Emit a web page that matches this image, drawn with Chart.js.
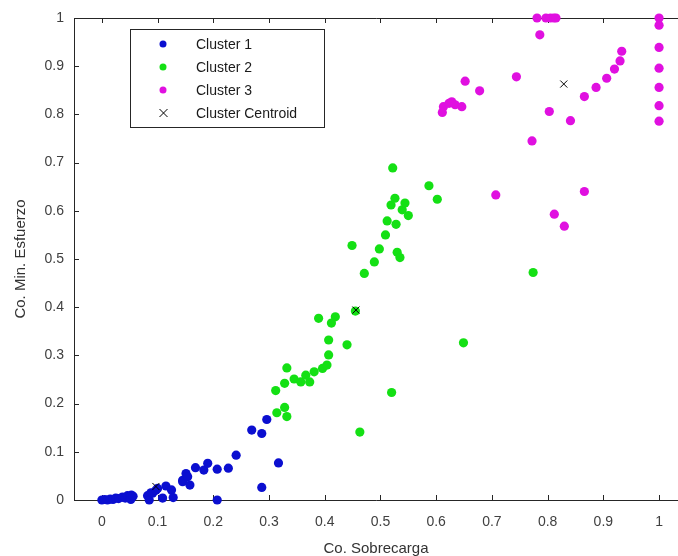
<!DOCTYPE html>
<html>
<head>
<meta charset="utf-8">
<script src="https://cdn.jsdelivr.net/npm/chart.js@4/dist/chart.umd.min.js"></script>
<style>
  html, body { margin: 0; padding: 0; background: #fff; }
  #wrap { width: 678px; height: 556px; position: relative; }
</style>
</head>
<body>
<div id="wrap"><canvas id="kmeansChart"></canvas></div>
<script>
// puntos de cada cluster [Co. Sobrecarga, Co. Min. Esfuerzo]
const cluster1 = [
  [0.0, 0.0], [0.005, 0.001], [0.01, 0.0], [0.015, 0.002], [0.02, 0.001], [0.025, 0.004],
  [0.03, 0.003], [0.037, 0.006], [0.042, 0.004], [0.046, 0.009], [0.05, 0.006], [0.053, 0.01],
  [0.052, 0.001], [0.056, 0.008], [0.082, 0.009], [0.085, 0.0], [0.088, 0.015], [0.091, 0.014],
  [0.097, 0.02], [0.1, 0.024], [0.109, 0.004], [0.115, 0.029], [0.125, 0.021], [0.128, 0.005],
  [0.145, 0.041], [0.145, 0.038], [0.151, 0.055], [0.154, 0.048], [0.158, 0.031], [0.168, 0.067],
  [0.183, 0.062], [0.19, 0.076], [0.207, 0.064], [0.207, 0.0], [0.227, 0.066], [0.241, 0.093],
  [0.269, 0.145], [0.287, 0.138], [0.296, 0.167], [0.287, 0.026], [0.317, 0.077]
];
const cluster2 = [
  [0.312, 0.227], [0.314, 0.181], [0.328, 0.192], [0.332, 0.173], [0.328, 0.242], [0.332, 0.274],
  [0.345, 0.251], [0.357, 0.245], [0.373, 0.245], [0.366, 0.259], [0.381, 0.266], [0.396, 0.273],
  [0.404, 0.28], [0.407, 0.301], [0.44, 0.322], [0.407, 0.332], [0.389, 0.377], [0.412, 0.367],
  [0.419, 0.38], [0.455, 0.392], [0.463, 0.141], [0.52, 0.223], [0.649, 0.326], [0.774, 0.472],
  [0.449, 0.528], [0.471, 0.47], [0.489, 0.494], [0.498, 0.521], [0.509, 0.55], [0.512, 0.579],
  [0.528, 0.572], [0.53, 0.514], [0.535, 0.503], [0.55, 0.59], [0.539, 0.602], [0.544, 0.616],
  [0.519, 0.612], [0.526, 0.626], [0.587, 0.652], [0.602, 0.624], [0.522, 0.689]
];
const cluster3 = [
  [0.611, 0.804], [0.613, 0.816], [0.623, 0.823], [0.628, 0.826], [0.634, 0.82], [0.646, 0.816],
  [0.652, 0.869], [0.678, 0.849], [0.707, 0.633], [0.744, 0.878], [0.772, 0.745], [0.781, 1.0],
  [0.786, 0.965], [0.797, 1.0], [0.805, 1.0], [0.811, 1.0], [0.815, 1.0], [0.803, 0.806],
  [0.812, 0.593], [0.83, 0.568], [0.841, 0.787], [0.866, 0.64], [0.866, 0.837], [0.887, 0.856],
  [0.906, 0.875], [0.92, 0.894], [0.93, 0.911], [0.933, 0.931],
  [1.0, 1.0], [1.0, 0.985], [1.0, 0.939], [1.0, 0.896], [1.0, 0.856], [1.0, 0.818], [1.0, 0.786]
];
const centroids = [[0.097, 0.028], [0.456, 0.394], [0.829, 0.863]];

const seriesNames = ['Cluster 1', 'Cluster 2', 'Cluster 3', 'Cluster Centroid'];
const seriesColors = ['#0b0fd0', '#14e014', '#e010e0', '#000000'];

const xTicks = [0, 0.1, 0.2, 0.3, 0.4, 0.5, 0.6, 0.7, 0.8, 0.9, 1];
const yTicks = [0, 0.1, 0.2, 0.3, 0.4, 0.5, 0.6, 0.7, 0.8, 0.9, 1];

const toXY = arr => arr.map(p => ({ x: p[0], y: p[1] }));
const fontFam = '"Liberation Sans", Arial, sans-serif';

// marco de ejes con marcas hacia dentro (estilo MATLAB)
const framePlugin = {
  id: 'frame',
  beforeDatasetsDraw(chart) {
    const { ctx, chartArea: a, scales: { x, y } } = chart;
    ctx.save();
    ctx.strokeStyle = '#262626';
    ctx.lineWidth = 1;
    ctx.beginPath();
    ctx.moveTo(a.left + 0.5, a.top + 0.5);
    ctx.lineTo(a.left + 0.5, a.bottom + 0.5);
    ctx.lineTo(a.right, a.bottom + 0.5);
    ctx.moveTo(a.left + 0.5, a.top + 0.5);
    ctx.lineTo(a.right, a.top + 0.5);
    ctx.stroke();
    ctx.beginPath();
    xTicks.forEach(v => {
      const px = Math.round(x.getPixelForValue(v)) + 0.5;
      ctx.moveTo(px, a.bottom);
      ctx.lineTo(px, a.bottom - 5);
      ctx.moveTo(px, a.top);
      ctx.lineTo(px, a.top + 5);
    });
    yTicks.forEach(v => {
      const py = Math.round(y.getPixelForValue(v)) + 0.5;
      ctx.moveTo(a.left, py);
      ctx.lineTo(a.left + 5, py);
    });
    ctx.stroke();
    ctx.restore();
  }
};

// leyenda dentro del área de trazado
const legendBoxPlugin = {
  id: 'legendBox',
  afterDraw(chart) {
    const ctx = chart.ctx;
    const bx = 130.5, by = 29.5, bw = 194, bh = 98;
    ctx.save();
    ctx.fillStyle = '#fff';
    ctx.fillRect(bx, by, bw, bh);
    ctx.strokeStyle = '#262626';
    ctx.lineWidth = 1;
    ctx.strokeRect(bx, by, bw, bh);
    ctx.font = '14px ' + fontFam;
    ctx.textBaseline = 'middle';
    seriesNames.forEach((name, i) => {
      const cy = 44 + i * 23;
      if (i < 3) {
        ctx.fillStyle = seriesColors[i];
        ctx.beginPath();
        ctx.arc(163, cy, 3.5, 0, Math.PI * 2);
        ctx.fill();
      } else {
        ctx.strokeStyle = '#000';
        ctx.beginPath();
        ctx.moveTo(159.5, cy - 4); ctx.lineTo(167.5, cy + 4);
        ctx.moveTo(167.5, cy - 4); ctx.lineTo(159.5, cy + 4);
        ctx.stroke();
      }
      ctx.fillStyle = '#1a1a1a';
      ctx.fillText(name, 196, cy + 1);
    });
    ctx.restore();
  }
};

const dotSet = (i, pts) => ({
  label: seriesNames[i],
  data: toXY(pts),
  backgroundColor: seriesColors[i],
  borderWidth: 0,
  pointRadius: 4.6,
  pointHoverRadius: 4.6,
  clip: false,
  order: 4 - i
});

new Chart(document.getElementById('kmeansChart'), {
  type: 'scatter',
  data: {
    datasets: [
      dotSet(0, cluster1),
      dotSet(1, cluster2),
      dotSet(2, cluster3),
      {
        label: seriesNames[3],
        data: toXY(centroids),
        pointStyle: 'crossRot',
        pointRadius: 5,
        borderColor: '#000',
        borderWidth: 1,
        clip: false,
        order: 0
      }
    ]
  },
  options: {
    responsive: true,
    maintainAspectRatio: false,
    animation: false,
    events: [],
    layout: { autoPadding: false, padding: { top: 18, right: 0, left: 0, bottom: 0 } },
    plugins: { legend: { display: false }, tooltip: { enabled: false } },
    scales: {
      x: {
        type: 'linear',
        min: -0.05,
        max: 1.034,
        grid: { display: false, drawTicks: false },
        border: { display: false },
        afterBuildTicks: s => { s.ticks = xTicks.map(v => ({ value: v })); },
        afterFit: s => { s.height = 56; s.paddingLeft = 0; s.paddingRight = 0; },
        ticks: {
          autoSkip: false,
          maxRotation: 0,
          padding: 14,
          color: '#404040',
          font: { family: fontFam, size: 14 },
          callback: v => String(v)
        },
        title: {
          display: true,
          text: 'Co. Sobrecarga',
          color: '#333',
          font: { family: fontFam, size: 15 },
          padding: { top: 0, bottom: -2 }
        }
      },
      y: {
        type: 'linear',
        min: 0,
        max: 1,
        grid: { display: false, drawTicks: false },
        border: { display: false },
        afterBuildTicks: s => { s.ticks = yTicks.map(v => ({ value: v })); },
        afterFit: s => { s.width = 74; s.paddingTop = 0; s.paddingBottom = 0; },
        ticks: {
          autoSkip: false,
          padding: 10,
          color: '#404040',
          font: { family: fontFam, size: 14 },
          callback: v => String(v)
        },
        title: {
          display: true,
          text: 'Co. Min. Esfuerzo',
          color: '#333',
          font: { family: fontFam, size: 15 },
          padding: { top: 12, bottom: 0 }
        }
      }
    }
  },
  plugins: [framePlugin, legendBoxPlugin]
});
</script>
</body>
</html>
